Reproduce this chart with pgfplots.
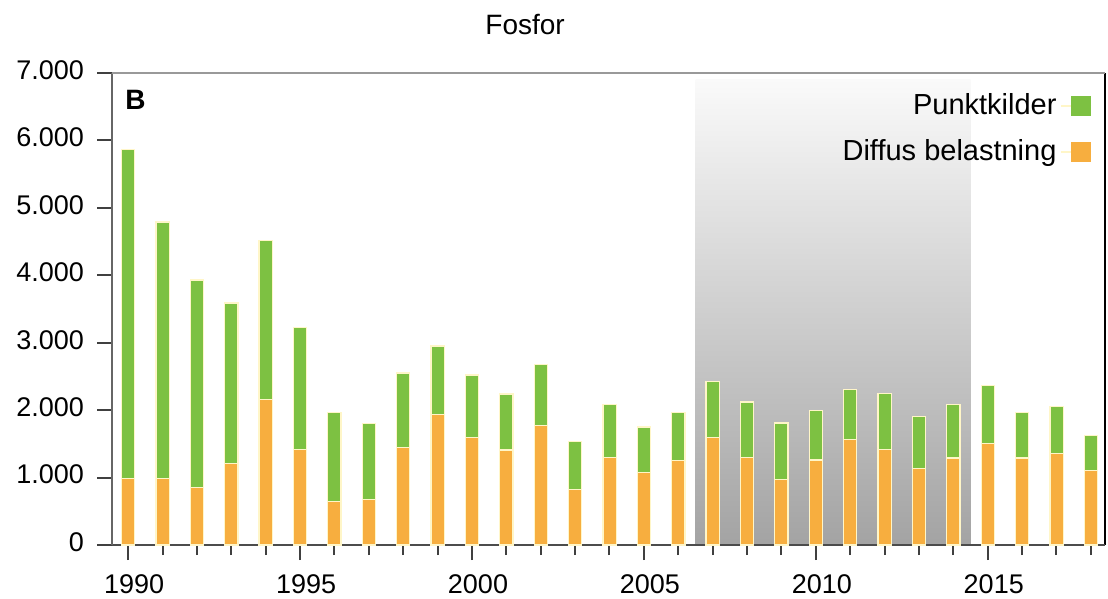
\documentclass[border=0pt]{standalone}
\usepackage{fontspec}
\setmainfont{Liberation Sans}
\usepackage{pgfplots}
\pgfplotsset{compat=1.18}
\definecolor{pgreen}{HTML}{7DC142}
\definecolor{porange}{HTML}{F7AE3F}
\definecolor{edgeyel}{HTML}{FFF6C8}
\pgfplotsset{common/.style={scale only axis, width=496.5pt, height=236pt,
  xmin=1989.53, xmax=2018.41, ymin=0, ymax=7000}}
\begin{document}
\begin{tikzpicture}
\useasboundingbox (-56pt,-27pt) rectangle (498pt,272.5pt);
\begin{axis}[common, hide axis]
\fill[top color=black!2, bottom color=black!36] (axis cs:2006.5,0) rectangle (axis cs:2014.5,6900);
\end{axis}
\begin{axis}[
  common,
  ybar stacked, bar width=6.6pt,
  xtick={1990,1995,...,2015}, minor xtick={1990,...,2018},
  ytick={0,1000,...,7000},
  xtick pos=bottom, ytick pos=left,
  tick align=outside, major tick length=7.5pt, minor tick length=5pt,
  tick style={color=black!75, line width=1pt},
  /pgf/number format/assume math mode=true,
  xticklabel style={font=\fontsize{13.5}{16}\selectfont, yshift=-4pt, xshift=3pt, /pgf/number format/1000 sep={}},
  yticklabel style={font=\fontsize{13.5}{16}\selectfont, xshift=-3pt, yshift=1.5pt, /pgf/number format/1000 sep={.}},
  axis line style={draw=none},
  clip=false,
  legend style={draw=none, fill=none, at={(0.987,0.965)}, anchor=north east,
    font=\fontsize{14.5}{17}\selectfont, row sep=7pt, inner sep=0pt},
  legend plot pos=right, legend cell align=right, reverse legend,
  legend image code/.code={\path (0pt,0pt) -- (15pt,0pt); \fill[#1,draw=none] (5pt,-5pt) rectangle (15pt,5pt);},
]
\addplot[fill=porange, draw=edgeyel, line width=0.6pt] coordinates {
 (1990,990) (1991,990) (1992,850) (1993,1210) (1994,2160) (1995,1420) (1996,640)
 (1997,670) (1998,1450) (1999,1930) (2000,1600) (2001,1410) (2002,1770) (2003,820)
 (2004,1300) (2005,1070) (2006,1250) (2007,1600) (2008,1300) (2009,970) (2010,1260)
 (2011,1560) (2012,1420) (2013,1140) (2014,1290) (2015,1510) (2016,1290) (2017,1360)
 (2018,1100)};
\addlegendentry{Diffus belastning}
\addplot[fill=pgreen, draw=edgeyel, line width=0.6pt] coordinates {
 (1990,4870) (1991,3800) (1992,3080) (1993,2380) (1994,2350) (1995,1800) (1996,1320)
 (1997,1130) (1998,1100) (1999,1020) (2000,920) (2001,830) (2002,910) (2003,720)
 (2004,780) (2005,680) (2006,710) (2007,820) (2008,820) (2009,840) (2010,730)
 (2011,750) (2012,830) (2013,760) (2014,790) (2015,860) (2016,670) (2017,690)
 (2018,520)};
\addlegendentry{Punktkilder}
\draw[black!40, line width=1pt] (rel axis cs:0,1) -- (rel axis cs:1,1);
\draw[black!60, line width=1pt] (rel axis cs:0,0) -- (rel axis cs:0,1);
\draw[black!70, line width=1pt] (rel axis cs:0,0) -- (rel axis cs:1,0);
\draw[black, line width=1pt] (rel axis cs:1,0) -- (rel axis cs:1,1);
\node[anchor=base, font=\fontsize{14}{16}\selectfont] at (rel axis cs:0.416,1.0805) {Fosfor};
\node[anchor=base west, inner sep=0pt, font=\bfseries\fontsize{14}{16}\selectfont] at (rel axis cs:0.013,0.9216) {B};
\end{axis}
\end{tikzpicture}
\end{document}
